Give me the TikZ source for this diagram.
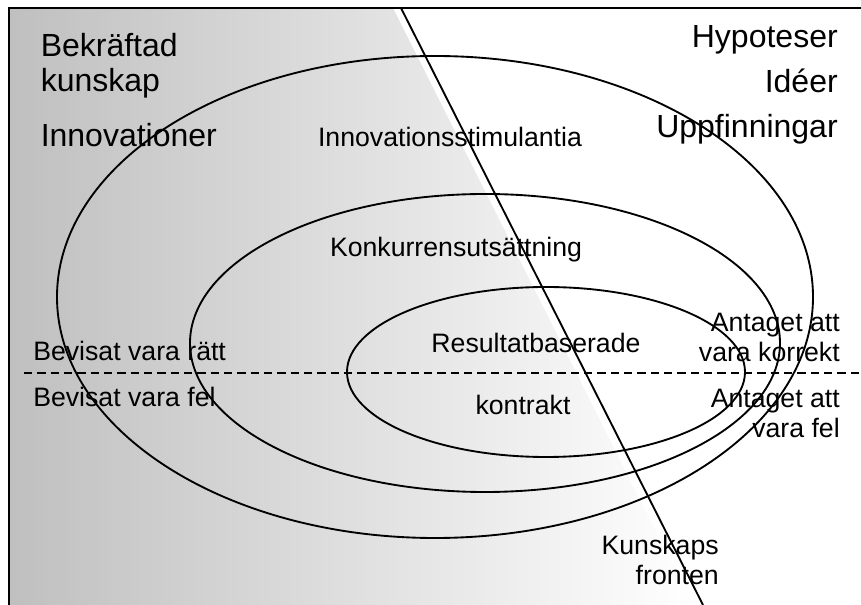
\documentclass[tikz,border=0pt]{standalone}
\usepackage{fontspec}
\setmainfont{Liberation Sans}
\usepackage{tikz}
\usetikzlibrary{positioning}
\tikzset{
    bigtext/.style={inner sep=0pt, font=\fontsize{24}{33.75}\selectfont},
    smalltext/.style={inner sep=0pt, font=\fontsize{20}{22.5}\selectfont},
    ring/.style={line width=1.4pt},
    front/.style={line width=1.4pt},
    divider/.style={line width=1pt, dash pattern=on 6.2pt off 3.8pt},
    border/.style={line width=1.5pt}
}

\begin{document}
\begin{tikzpicture}[x=0.75pt, y=-0.75pt]
\useasboundingbox (0,0) rectangle (861,605);

% Background
\shade [left color=black!25, right color=white] (9,8) -- (393,8) -- (693,605) -- (9,605) -- cycle;
\draw [border] (9,605) -- (9,8) -- (861,8);

% Rings
\draw [ring] (435,297) ellipse [x radius=378, y radius=241];
\draw [ring] (485,343) ellipse [x radius=295, y radius=149];
\draw [ring] (546,372) ellipse [x radius=199, y radius=85];

% Knowledge front and divider
\coordinate (fronttop) at (401,8);
\coordinate (frontbot) at (703,605);
\coordinate (divleft) at (24,373);
\coordinate (divright) at (861,373);
\draw [front] (fronttop) -- (frontbot);
\draw [divider] (divleft) -- (divright);

% Nodes (base anchor sits on the last line)
\node (confirmed) [bigtext, font=\fontsize{24}{26.25}\selectfont, anchor=base west, align=left] at (40.5,92) {Bekräftad\\kunskap};
\node (innov) [bigtext, anchor=base west] at (40.5,147) {Innovationer};
\node (hypo) [bigtext, anchor=base east, align=right] at (838,138) {Hypoteser\\Idéer\\Uppfinningar};

\node (stim) [smalltext, anchor=base] at (450,147) {Innovationsstimulantia};
\node (compet) [smalltext, anchor=base] at (456,257) {Konkurrensutsättning};
\node (result) [smalltext, anchor=base] at (536,353) {Resultatbaserade};
\node (contract) [smalltext, anchor=base] at (523,415) {kontrakt};

\node (proven) [smalltext, anchor=base west] at (33,361) {Bevisat vara rätt};
\node (disproven) [smalltext, anchor=base west] at (33,407) {Bevisat vara fel};
\node (correct) [smalltext, anchor=base east, align=right] at (840,362) {Antaget att\\vara korrekt};
\node (false) [smalltext, anchor=base east, align=right] at (840,438) {Antaget att\\vara fel};
\node (frontlabel) [smalltext, anchor=base east, align=right] at (719,585) {Kunskaps\\fronten};

\end{tikzpicture}
\end{document}
